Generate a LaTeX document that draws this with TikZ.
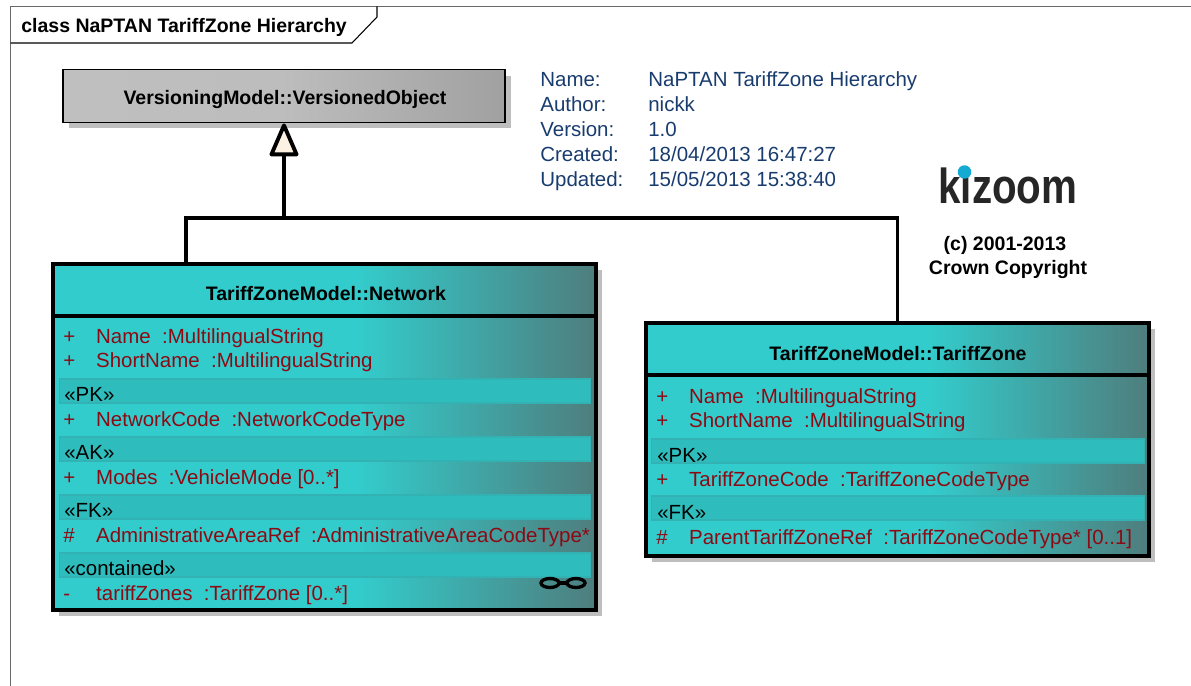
\documentclass[tikz,border=0pt]{standalone}
\usepackage{fontspec}
\setmainfont{Liberation Sans}
\usetikzlibrary{arrows.meta,shadows}
\definecolor{rowred}{RGB}{140,10,20}
\definecolor{metablue}{RGB}{25,60,110}
\definecolor{bandteal}{RGB}{46,188,188}
\definecolor{bandedge}{RGB}{50,178,178}
\definecolor{shadowgray}{RGB}{190,190,190}
\definecolor{framegray}{RGB}{105,105,105}
\definecolor{tipcream}{RGB}{253,241,228}
\definecolor{dotblue}{RGB}{20,170,210}
\pgfdeclarehorizontalshading{tealfade}{100bp}{rgb(0bp)=(.2,.8,.8); rgb(53bp)=(.2,.8,.8); rgb(75bp)=(.31,.49,.49); rgb(100bp)=(.31,.49,.49)}
\pgfdeclarehorizontalshading{grayfade}{100bp}{rgb(0bp)=(.76,.76,.76); rgb(50bp)=(.74,.74,.74); rgb(75bp)=(.63,.63,.63); rgb(100bp)=(.63,.63,.63)}
\newcommand{\vis}[1]{\makebox[18.7pt][l]{#1}}
\newcommand{\rowfont}{\fontsize{11.65pt}{13pt}\selectfont}
\newcommand{\headfont}{\fontsize{11.1pt}{13pt}\selectfont\bfseries}
\begin{document}
\begin{tikzpicture}[x=0.02cm,y=0.02cm]
\tikzstyle{every node}+=[inner sep=0pt]
\tikzstyle{classbox}=[draw=black,rectangle,drop shadow={shadow xshift=0.12cm,shadow yshift=-0.12cm,opacity=1,fill=shadowgray}]
\tikzstyle{tealbox}=[classbox,shading=tealfade,line width=2.2pt]
\tikzstyle{graybox}=[classbox,shading=grayfade,line width=1.1pt]
\tikzstyle{band}=[rectangle,draw=bandedge,fill=bandteal,line width=0.6pt,minimum height=0.48cm]
\tikzstyle{title}=[font=\headfont,text=black]
\tikzstyle{attr}=[anchor=base west,font=\rowfont,text=rowred]
\tikzstyle{stereo}=[anchor=base west,font=\rowfont,text=black]
\tikzstyle{meta}=[anchor=base west,font=\rowfont,text=metablue]
\tikzstyle{link}=[black,line width=2.2pt]
\useasboundingbox (0,0) rectangle (1191,-686);
% frame
\draw [framegray,line width=1.1pt] (10.5,-686) -- (10.5,-6.5) -- (1191,-6.5);
\coordinate (tabNE) at (377,-6.5);
\coordinate (tabE) at (377,-17);
\coordinate (tabS) at (352,-43);
\coordinate (tabW) at (10.5,-43);
\draw [black,line width=0.6pt] (tabNE) -- (tabE) -- (tabS) -- (tabW);
\node (frameTitle) [title,anchor=base west] at (21,-33) {class NaPTAN TariffZone Hierarchy};
% classes
\node (versioned) [graybox,minimum width=8.85cm,minimum height=1.06cm] at (284,-96) {};
\node (versionedTitle) [title] at (285,-99.5) {VersioningModel::VersionedObject};
\node (network) [tealbox,minimum width=10.86cm,minimum height=6.92cm] at (324.5,-437) {};
\node (networkTitle) [title] at (326,-293.5) {TariffZoneModel::Network};
\node (tariffZone) [tealbox,minimum width=10.06cm,minimum height=4.66cm] at (897.5,-439.5) {};
\node (tariffZoneTitle) [title] at (898,-353.5) {TariffZoneModel::TariffZone};
\coordinate (networkRule) at (324,-316);
\coordinate (tariffZoneRule) at (897,-375);
\draw [link] (network.west |- networkRule) -- (network.east |- networkRule);
\draw [link] (tariffZone.west |- tariffZoneRule) -- (tariffZone.east |- tariffZoneRule);
% network rows
\node (netPkBand) [band,minimum width=10.64cm] at (325,-391) {};
\node (netAkBand) [band,minimum width=10.64cm] at (325,-449) {};
\node (netFkBand) [band,minimum width=10.64cm] at (325,-507) {};
\node (netContBand) [band,minimum width=10.64cm] at (325,-565) {};
\node (netName) [attr] at (63,-343) {\vis{+}Name\ \ :MultilingualString};
\node (netShort) [attr] at (63,-367) {\vis{+}ShortName\ \ :MultilingualString};
\node (netPk) [stereo] at (64,-401) {«PK»};
\node (netCode) [attr] at (63,-426) {\vis{+}NetworkCode\ \ :NetworkCodeType};
\node (netAk) [stereo] at (64,-459) {«AK»};
\node (netModes) [attr] at (63,-484) {\vis{+}Modes\ \ :VehicleMode [0..*]};
\node (netFk) [stereo] at (64,-517) {«FK»};
\node (netArea) [attr] at (63,-542) {\vis{\#}AdministrativeAreaRef\ \ :AdministrativeAreaCodeType*};
\node (netCont) [stereo] at (64,-575) {«contained»};
\node (netZones) [attr] at (63,-600) {\vis{-}tariffZones\ \ :TariffZone [0..*]};
\draw [black,line width=1.9pt] (550,-583) ellipse (9 and 4.5);
\draw [black,line width=1.9pt] (576,-583) ellipse (9 and 4.5);
\draw [black,line width=1.9pt] (559,-583) -- (567,-583);
% tariffzone rows
\node (zonePkBand) [band,minimum width=9.88cm] at (898,-451) {};
\node (zoneFkBand) [band,minimum width=9.88cm] at (898,-508) {};
\node (zoneName) [attr] at (656,-403) {\vis{+}Name\ \ :MultilingualString};
\node (zoneShort) [attr] at (656,-427) {\vis{+}ShortName\ \ :MultilingualString};
\node (zonePk) [stereo] at (657,-462) {«PK»};
\node (zoneCode) [attr] at (656,-486) {\vis{+}TariffZoneCode\ \ :TariffZoneCodeType};
\node (zoneFk) [stereo] at (657,-519) {«FK»};
\node (zoneParent) [attr] at (656,-544) {\vis{\#}ParentTariffZoneRef\ \ :TariffZoneCodeType* [0..1]};
% notes
\node (nameKey) [meta] at (540,-87) {Name:};
\node (nameVal) [meta] at (648,-87) {NaPTAN TariffZone Hierarchy};
\node (authorKey) [meta] at (540,-112) {Author:};
\node (authorVal) [meta] at (648,-112) {nickk};
\node (versionKey) [meta] at (540,-137) {Version:};
\node (versionVal) [meta] at (648,-137) {1.0};
\node (createdKey) [meta] at (540,-162) {Created:};
\node (createdVal) [meta] at (648,-162) {18/04/2013 16:47:27};
\node (updatedKey) [meta] at (540,-187) {Updated:};
\node (updatedVal) [meta] at (648,-187) {15/05/2013 15:38:40};
\node (logoText) [anchor=base,font=\fontsize{28pt}{30pt}\selectfont\bfseries,text={black!85},xscale=0.82,transform shape] at (1008,-204) {kizoom};
\node (logoDot) [circle,fill=dotblue,minimum size=0.27cm] at (964.5,-172) {};
\node (copyYears) [title,anchor=base] at (1005,-251) {(c) 2001-2013};
\node (copyOwner) [title,anchor=base] at (1008,-275) {Crown Copyright};
% generalization
\coordinate (networkJoin) at (186,-263);
\coordinate (busJoin) at (284,-218);
\draw [link] (networkJoin) |- (busJoin) -| (tariffZone.north);
\draw [link,-{Triangle[open,fill=tipcream,length=0.72cm,width=0.6cm,round]}] (busJoin) -- (versioned.south);
\end{tikzpicture}
\end{document}
